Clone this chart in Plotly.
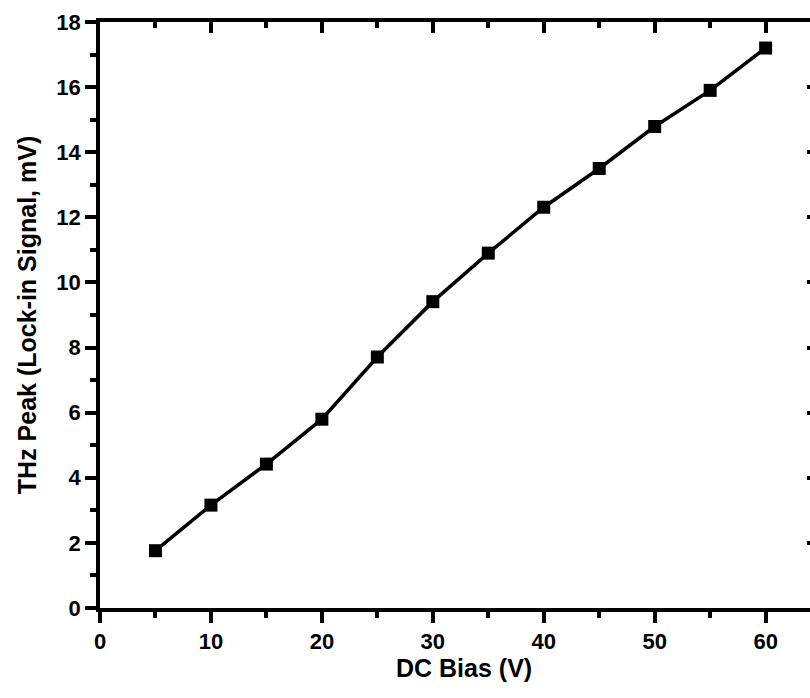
import plotly.graph_objects as go

dc_bias = [5, 10, 15, 20, 25, 30, 35, 40, 45, 50, 55, 60]
thz_peak = [1.76, 3.16, 4.42, 5.8, 7.71, 9.41, 10.9, 12.31, 13.5, 14.79, 15.9, 17.2]

x_title = "DC Bias (V)"
y_title = "THz Peak (Lock-in Signal, mV)"

FONT = "Liberation Sans, Arial, sans-serif"
BLACK = "#000000"
LW = 3.5

fig = go.Figure()
fig.add_trace(go.Scatter(
    x=dc_bias, y=thz_peak, mode="lines+markers",
    line=dict(color=BLACK, width=3.5),
    marker=dict(symbol="square", size=13, color=BLACK),
    showlegend=False, hoverinfo="x+y",
))
# invisible trace to activate the mirrored top/right axes
fig.add_trace(go.Scatter(
    x=dc_bias, y=thz_peak, xaxis="x2", yaxis="y2", mode="markers",
    marker=dict(opacity=0), showlegend=False, hoverinfo="skip",
))

xr = [0, 64]
yr = [0, 18]

fig.update_layout(
    width=810, height=698,
    margin=dict(l=100, r=0, t=22, b=90),
    paper_bgcolor="white", plot_bgcolor="white",
    font=dict(family=FONT, color=BLACK, size=22),
    xaxis=dict(
        range=xr, dtick=10, tick0=0, showgrid=False, zeroline=False,
        showline=True, linewidth=LW, linecolor=BLACK,
        ticks="outside", ticklen=11, tickwidth=LW, tickcolor=BLACK,
        minor=dict(dtick=5, ticks="outside", ticklen=6, tickwidth=LW, tickcolor=BLACK, showgrid=False),
        tickfont=dict(family=FONT, size=22, color=BLACK, weight="bold"),
    ),
    yaxis=dict(
        range=yr, dtick=2, tick0=0, showgrid=False, zeroline=False,
        showline=True, linewidth=LW, linecolor=BLACK,
        ticks="outside", ticklen=11, tickwidth=LW, tickcolor=BLACK,
        minor=dict(dtick=1, ticks="outside", ticklen=6, tickwidth=LW, tickcolor=BLACK, showgrid=False),
        tickfont=dict(family=FONT, size=22, color=BLACK, weight="bold"),
        title=dict(text=y_title, font=dict(family=FONT, size=25, color=BLACK, weight="bold"), standoff=14),
    ),
    xaxis2=dict(
        overlaying="x", side="top", anchor="y", range=xr, dtick=10, tick0=0,
        showgrid=False, zeroline=False, showticklabels=False,
        showline=True, linewidth=LW, linecolor=BLACK,
        ticks="inside", ticklen=11, tickwidth=LW, tickcolor=BLACK,
        minor=dict(dtick=5, ticks="inside", ticklen=6, tickwidth=LW, tickcolor=BLACK, showgrid=False),
    ),
    yaxis2=dict(
        overlaying="y", side="right", anchor="x", range=yr, dtick=2, tick0=0,
        showgrid=False, zeroline=False, showticklabels=False, showline=False,
        ticks="inside", ticklen=3, tickwidth=LW, tickcolor=BLACK,
    ),
    annotations=[dict(
        text=x_title, xref="paper", yref="paper", x=0.5127, y=-0.103,
        xanchor="center", yanchor="middle", showarrow=False,
        font=dict(family=FONT, size=25, color=BLACK, weight="bold"),
    )],
)

fig.write_html("out.html")
